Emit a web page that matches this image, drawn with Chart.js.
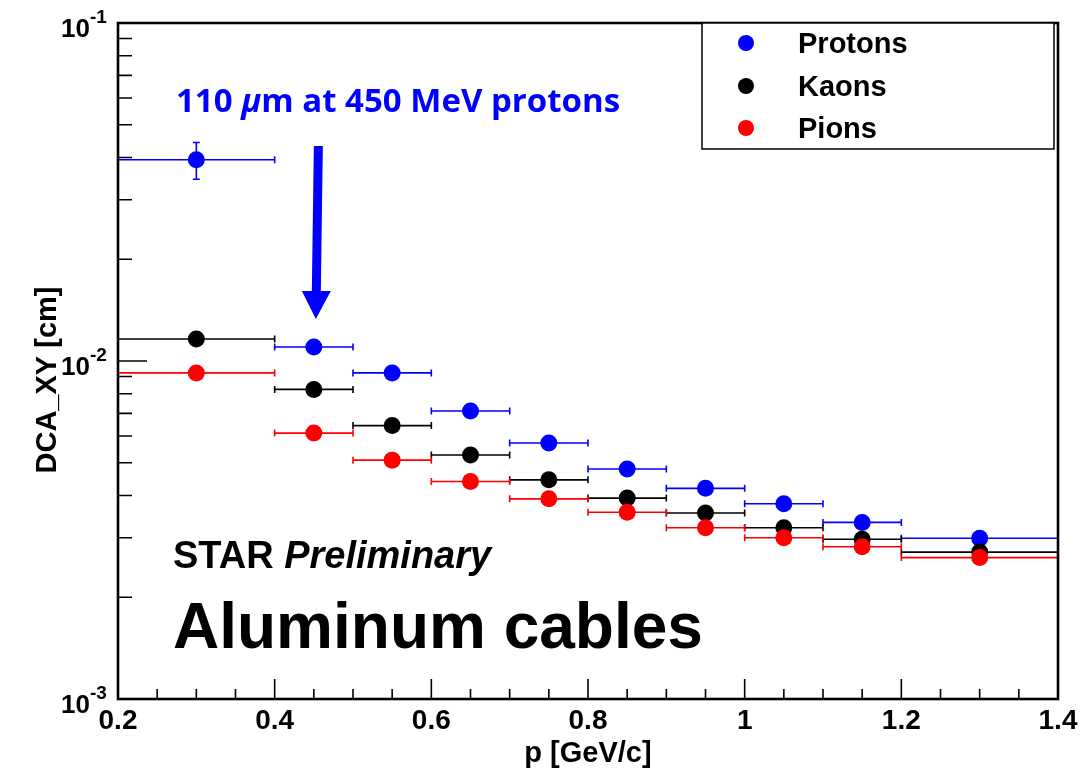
<!DOCTYPE html>
<html>
<head>
<meta charset="utf-8">
<script src="https://cdn.jsdelivr.net/npm/chart.js@4.4.1/dist/chart.umd.min.js"></script>
<style>
  html, body { margin: 0; padding: 0; background: #fff; }
  #wrap { width: 1090px; height: 768px; position: relative; }
</style>
</head>
<body>
<div id="wrap"><canvas id="dca-chart" width="1090" height="768"></canvas></div>
<script>
// momentum bins [GeV/c]
const pCenter = [0.3, 0.45, 0.55, 0.65, 0.75, 0.85, 0.95, 1.05, 1.15, 1.3];
const pLow    = [0.2, 0.4, 0.5, 0.6, 0.7, 0.8, 0.9, 1.0, 1.1, 1.2];
const pHigh   = [0.4, 0.5, 0.6, 0.7, 0.8, 0.9, 1.0, 1.1, 1.2, 1.4];

// DCA_XY resolution [cm]
const protonDCA = [0.0394, 0.0110, 0.00922, 0.00711, 0.00572, 0.00479, 0.00420, 0.00378, 0.00333, 0.00299];
const kaonDCA   = [0.01162, 0.00824, 0.00644, 0.00527, 0.00445, 0.00393, 0.00355, 0.00321, 0.00297, 0.00272];
const pionDCA   = [0.00922, 0.00612, 0.00509, 0.00440, 0.00391, 0.00357, 0.00321, 0.00300, 0.00282, 0.00262];

// statistical errors (only the lowest proton bin is larger than the marker)
const protonErr = [0.0049, 0, 0, 0, 0, 0, 0, 0, 0, 0];
const kaonErr   = [0, 0, 0, 0, 0, 0, 0, 0, 0, 0];
const pionErr   = [0, 0, 0, 0, 0, 0, 0, 0, 0, 0];

const xTickLabels = ['0.2', '0.4', '0.6', '0.8', '1', '1.2', '1.4'];
const yDecades = [-3, -2, -1];

const HELV = '"Liberation Sans", Arial, Helvetica, sans-serif';

function points(ys) {
  return pCenter.map((x, i) => ({ x: x, y: ys[i] }));
}

function makeSet(label, color, ys, errs, order) {
  return {
    label: label,
    data: points(ys),
    errs: errs,
    backgroundColor: color,
    borderColor: color,
    borderWidth: 0,
    pointRadius: 8.5,
    pointStyle: 'circle',
    order: order
  };
}

// horizontal bin widths and vertical errors, drawn under the markers
const errorBars = {
  id: 'errorBars',
  beforeDatasetsDraw(chart) {
    const ctx = chart.ctx;
    const xs = chart.scales.x, ys = chart.scales.y;
    ctx.save();
    ctx.lineWidth = 1.6;
    chart.data.datasets.forEach((ds) => {
      ctx.strokeStyle = ds.borderColor;
      ds.data.forEach((pt, i) => {
        const py = ys.getPixelForValue(pt.y);
        const x0 = xs.getPixelForValue(pLow[i]);
        const x1 = xs.getPixelForValue(pHigh[i]);
        ctx.beginPath();
        ctx.moveTo(x0, py); ctx.lineTo(x1, py);
        ctx.moveTo(x0, py - 3.5); ctx.lineTo(x0, py + 3.5);
        ctx.moveTo(x1, py - 3.5); ctx.lineTo(x1, py + 3.5);
        ctx.stroke();
        const e = ds.errs[i];
        if (e > 0) {
          const px = xs.getPixelForValue(pt.x);
          const yt = ys.getPixelForValue(pt.y + e);
          const yb = ys.getPixelForValue(pt.y - e);
          ctx.beginPath();
          ctx.moveTo(px, yt); ctx.lineTo(px, yb);
          ctx.moveTo(px - 3.5, yt); ctx.lineTo(px + 3.5, yt);
          ctx.moveTo(px - 3.5, yb); ctx.lineTo(px + 3.5, yb);
          ctx.stroke();
        }
      });
    });
    ctx.restore();
  }
};

// ROOT style frame: inward ticks, labels, titles, legend and notes
const rootFrame = {
  id: 'rootFrame',
  afterDraw(chart) {
    const ctx = chart.ctx;
    const a = chart.chartArea;
    const xs = chart.scales.x, ys = chart.scales.y;
    ctx.save();

    // ticks
    ctx.strokeStyle = '#000';
    ctx.lineWidth = 1.6;
    ctx.beginPath();
    for (let k = 0; k <= 24; k++) {
      const v = 0.2 + k * 0.05;
      const px = xs.getPixelForValue(v);
      const len = (k % 4 === 0) ? 20 : 10;
      ctx.moveTo(px, a.bottom); ctx.lineTo(px, a.bottom - len);
    }
    for (let d = -3; d < -1; d++) {
      for (let m = 1; m <= 9; m++) {
        const py = ys.getPixelForValue(m * Math.pow(10, d));
        const len = (m === 1) ? 29 : 14;
        ctx.moveTo(a.left, py); ctx.lineTo(a.left + len, py);
      }
    }
    ctx.stroke();

    // frame
    ctx.lineWidth = 2.6;
    ctx.strokeRect(a.left, a.top, a.right - a.left, a.bottom - a.top);

    // x tick labels
    ctx.fillStyle = '#000';
    ctx.font = 'bold 28px ' + HELV;
    ctx.textAlign = 'center';
    ctx.textBaseline = 'alphabetic';
    xTickLabels.forEach((t) => {
      ctx.fillText(t, xs.getPixelForValue(parseFloat(t)), 729);
    });

    // y tick labels 10^n
    yDecades.forEach((d) => {
      const py = ys.getPixelForValue(Math.pow(10, d));
      ctx.font = 'bold 26px ' + HELV;
      ctx.textAlign = 'right';
      ctx.fillText('10', 90, py + 14);
      ctx.font = 'bold 19px ' + HELV;
      ctx.textAlign = 'left';
      ctx.fillText(String(d), 90, py);
    });

    // axis titles
    ctx.font = 'bold 29px ' + HELV;
    ctx.textAlign = 'center';
    ctx.fillText('p [GeV/c]', (a.left + a.right) / 2, 762);
    ctx.save();
    ctx.translate(56, 380);
    ctx.rotate(-Math.PI / 2);
    ctx.fillText('DCA_XY [cm]', 0, 0);
    ctx.restore();

    // legend
    const lg = { x: 702, y: 23, w: 352, h: 126 };
    ctx.fillStyle = '#fff';
    ctx.fillRect(lg.x, lg.y, lg.w, lg.h);
    ctx.lineWidth = 1.5;
    ctx.strokeStyle = '#000';
    ctx.strokeRect(lg.x, lg.y, lg.w, lg.h);
    const entries = [
      ['Protons', '#0000ff', 43],
      ['Kaons', '#000000', 86],
      ['Pions', '#ff0000', 128]
    ];
    ctx.font = 'bold 29px ' + HELV;
    ctx.textAlign = 'left';
    entries.forEach(([name, col, cy]) => {
      ctx.fillStyle = col;
      ctx.beginPath();
      ctx.arc(746, cy, 8, 0, Math.PI * 2);
      ctx.fill();
      ctx.fillStyle = '#000';
      ctx.fillText(name, 798, cy + 10);
    });

    // note and arrow pointing at the 450 MeV proton bin
    ctx.fillStyle = '#0000ff';
    ctx.font = 'bold 33px "Open Sans", sans-serif';
    ctx.textAlign = 'left';
    let tx = 176;
    const parts = [['110 ', 'bold'], ['\u03bc', 'italic bold'], ['m at 450 MeV protons', 'bold']];
    parts.forEach(([s, st]) => {
      ctx.font = st + ' 33px "Open Sans", sans-serif';
      ctx.fillText(s, tx, 112);
      tx += ctx.measureText(s).width;
    });
    const ax = xs.getPixelForValue(pCenter[1]) + 2;
    const tipY = ys.getPixelForValue(protonDCA[1]) - 28;
    ctx.beginPath();
    ctx.moveTo(ax - 2, 146);
    ctx.lineTo(ax + 7, 146);
    ctx.lineTo(ax + 5, tipY - 28);
    ctx.lineTo(ax + 15, tipY - 28);
    ctx.lineTo(ax, tipY);
    ctx.lineTo(ax - 14, tipY - 28);
    ctx.lineTo(ax - 4, tipY - 28);
    ctx.closePath();
    ctx.fill();

    // labels inside the frame
    ctx.fillStyle = '#000';
    ctx.font = 'bold 38px ' + HELV;
    ctx.fillText('STAR ', 173, 568);
    const w = ctx.measureText('STAR ').width;
    ctx.font = 'italic bold 38px ' + HELV;
    ctx.fillText('Preliminary', 173 + w, 568);
    ctx.font = 'bold 64px ' + HELV;
    ctx.fillText('Aluminum cables', 173, 648);

    ctx.restore();
  }
};

const chart = new Chart(document.getElementById('dca-chart'), {
  type: 'scatter',
  data: {
    datasets: [
      makeSet('Protons', '#0000ff', protonDCA, protonErr, 3),
      makeSet('Kaons', '#000000', kaonDCA, kaonErr, 2),
      makeSet('Pions', '#ff0000', pionDCA, pionErr, 1)
    ]
  },
  options: {
    responsive: false,
    animation: false,
    events: [],
    layout: { padding: { left: 118, top: 23, right: 32, bottom: 69 } },
    plugins: { legend: { display: false }, tooltip: { enabled: false } },
    scales: {
      x: { type: 'linear', min: 0.2, max: 1.4, display: false },
      y: { type: 'logarithmic', min: 0.001, max: 0.1, display: false }
    }
  },
  plugins: [errorBars, rootFrame]
});
</script>
</body>
</html>
